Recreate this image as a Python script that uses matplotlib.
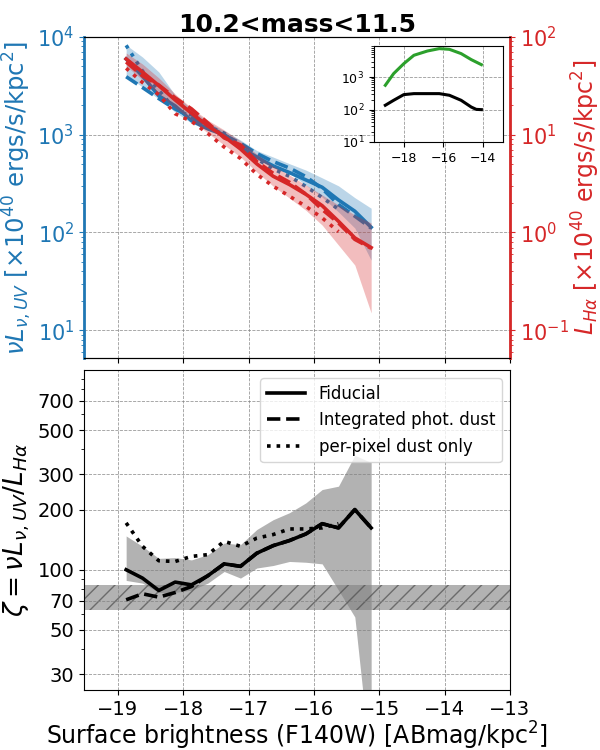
import numpy as np
import matplotlib
matplotlib.use("Agg")
import matplotlib.pyplot as plt
from matplotlib.ticker import FixedLocator, NullFormatter, FixedFormatter

# ---------------- data ----------------
sb = [-18.875, -18.625, -18.375, -18.125, -17.875, -17.625, -17.375, -17.125,
      -16.875, -16.625, -16.375, -16.125, -15.875, -15.625, -15.375, -15.125]

# UV surface density (x1e40 ergs/s/kpc^2)
uv_fid = [5960, 3980, 2500, 1970, 1394, 1148, 1000, 744, 590, 480, 410, 345, 290, 215, 165, 113]
uv_int = [3925, 3041, 2344, 1832, 1517, 1228, 993, 817, 643, 532, 456, 373, 281, 193, 147, 111]
uv_pix = [8220, 4480, 2850, 1804, 1597, 1226, 1037, 749, 567, 446, 376, 296, 228, 173]
uv_hi = [8280, 6240, 4385, 2546, 1833, 1349, 1099, 883, 689, 591, 505, 435, 362, 300, 227, 177]
uv_lo = [4083, 3075, 2317, 1706, 1318, 1117, 955, 731, 578, 484, 405, 305, 230, 162, 111, 52]

# Halpha surface density (x1e40 ergs/s/kpc^2)
ha_fid = [59.6, 43.8, 31.8, 22.7, 16.6, 12.3, 9.57, 7.15, 5.03, 3.76, 3.09, 2.46, 1.88, 1.30, 0.88, 0.70]
ha_int = [55.5, 40.1, 32.2, 23.8, 18.4, 13.2, 9.28, 7.86, 5.31, 4.03, 3.26, 2.47, 1.72, 1.25, 0.85, 0.69]
ha_pix = [47.9, 34.2, 25.7, 16.4, 13.7, 10.3, 7.48, 5.72, 3.94, 2.97, 2.35, 1.85, 1.41, 1.02]
ha_hi = [68.6, 52.9, 38.1, 26.1, 18.8, 14.1, 11.2, 8.62, 6.34, 4.78, 3.87, 3.06, 2.42, 1.91, 1.51, 1.25]
ha_lo = [50.5, 36.3, 26.1, 18.8, 14.1, 10.4, 7.85, 5.92, 4.15, 2.98, 2.25, 1.69, 1.19, 0.743, 0.464, 0.150]

# zeta = UV / Halpha
z_fid = [100, 90.8, 78.7, 86.7, 84, 93.3, 107, 104, 121, 132, 140, 151, 170, 162, 200, 162]
z_int = [70.7, 75.8, 72.9, 76.9, 82.4, 93.3, 107, 104, 121, 132, 140, 151, 170, 162, 200, 162]
z_pix = [171.6, 131, 110.9, 110, 116.6, 119, 138.7, 131, 144, 150, 160, 160, 162, 170]
z_hi = [147.6, 131, 114, 115, 112, 119, 136, 133.6, 159, 178, 193, 216, 252, 262, 374, 344]
z_lo = [88.4, 85.7, 77, 77, 79, 85.7, 98, 90.8, 102, 105, 110, 109, 107, 79, 58, 10]
z_ref_band = [63, 84]

# inset
ins_x_g = [-18.93, -18.51, -18.0, -17.49, -16.81, -16.21, -15.70, -15.11, -14.60, -14.09]
ins_green = [556, 1274, 2570, 4660, 6310, 7480, 7110, 5250, 3430, 2400]
ins_x_k = [-18.93, -18.51, -18.0, -17.49, -16.81, -16.21, -15.70, -15.11, -14.60, -14.35, -14.09]
ins_black = [135, 192, 287, 308, 308, 308, 274, 192, 119, 101, 99]

z_ticks = [30, 50, 70, 100, 200, 300, 500, 700]
title = "10.2<mass<11.5"

# ---------------- figure ----------------
blue = "tab:blue"
red = "tab:red"
lw = 2.6

fig = plt.figure(figsize=(6, 7.5), dpi=100)
ax = fig.add_axes([0.14, 0.5227, 0.71, 0.428])
ax2 = ax.twinx()
axb = fig.add_axes([0.14, 0.08, 0.71, 0.4267])

x = np.array(sb)
npx = len(uv_pix)

ax.fill_between(x, uv_lo, uv_hi, color=blue, alpha=0.3, lw=0)
ax.plot(x, uv_fid, color=blue, lw=lw, ls='-')
ax.plot(x, uv_int, color=blue, lw=lw, ls='--')
ax.plot(x[:npx], uv_pix, color=blue, lw=lw, ls=':')

ax2.fill_between(x, ha_lo, ha_hi, color=red, alpha=0.3, lw=0)
ax2.plot(x, ha_fid, color=red, lw=lw, ls='-')
ax2.plot(x, ha_int, color=red, lw=lw, ls='--')
ax2.plot(x[:npx], ha_pix, color=red, lw=lw, ls=':')

ax.set_yscale('log')
ax2.set_yscale('log')
ax.set_ylim(5.2, 1e4)
ax2.set_ylim(0.052, 100)
ax.set_xlim(-19.52, -13)
ax.set_xticks([-19, -18, -17, -16, -15, -14, -13])
ax.tick_params(labelbottom=False)
ax.grid(True, which='major', ls='--', color='gray', lw=0.6, alpha=0.8)

ax.spines['left'].set_color(blue)
ax.spines['left'].set_linewidth(2)
ax2.spines['left'].set_visible(False)
ax2.spines['right'].set_color(red)
ax2.spines['right'].set_linewidth(2)
ax.tick_params(axis='y', which='both', colors=blue, labelsize=15)
ax2.tick_params(axis='y', which='both', colors=red, labelsize=15)
ax.set_ylabel(r"$\nu L_{\nu,UV}$ [$\times10^{40}$ ergs/s/kpc$^2$]", color=blue, fontsize=17.5, labelpad=2)
ax2.set_ylabel(r"$L_{H\alpha}$ [$\times10^{40}$ ergs/s/kpc$^2$]", color=red, fontsize=17, labelpad=1)
ax.set_title(title, fontsize=18, fontweight='bold', pad=2)

# inset
axi = fig.add_axes([374/600, 1-142/750, 129/600, 96/750])
axi.set_zorder(5)
axi.plot(ins_x_g, ins_green, color='tab:green', lw=2.2)
axi.plot(ins_x_k, ins_black, color='black', lw=2.2)
axi.set_yscale('log')
axi.set_xlim(-19.5, -13)
axi.set_ylim(10, 9000)
axi.set_xticks([-18, -16, -14])
axi.grid(True, which='major', ls='--', color='gray', lw=0.6, alpha=0.8)
axi.tick_params(labelsize=9)

# bottom panel
axb.fill_between(x, z_lo, z_hi, color='gray', alpha=0.6, lw=0)
axb.axhspan(z_ref_band[0], z_ref_band[1], facecolor=(0.5, 0.5, 0.5, 0.6),
            edgecolor=(0.3, 0.3, 0.3, 0.7), hatch='//', lw=0)
axb.plot(x, z_fid, color='black', lw=lw, ls='-', label='Fiducial')
axb.plot(x, z_int, color='black', lw=lw, ls='--', label='Integrated phot. dust')
axb.plot(x[:npx], z_pix, color='black', lw=lw, ls=':', label='per-pixel dust only')
axb.set_yscale('log')
axb.set_ylim(25, 1000)
axb.set_xlim(-19.52, -13)
axb.set_xticks([-19, -18, -17, -16, -15, -14, -13])
axb.yaxis.set_major_locator(FixedLocator(z_ticks))
axb.yaxis.set_major_formatter(FixedFormatter([str(t) for t in z_ticks]))
axb.yaxis.set_minor_formatter(NullFormatter())
axb.tick_params(labelsize=14)
axb.grid(True, which='major', ls='--', color='gray', lw=0.6, alpha=0.8)
axb.set_ylabel(r"$\zeta=\nu L_{\nu,UV}/L_{H\alpha}$", fontsize=19)
axb.set_xlabel(r"Surface brightness (F140W) [ABmag/kpc$^2$]", fontsize=17, labelpad=1)
axb.legend(loc='upper right', fontsize=12, handlelength=2.3)

fig.savefig("out.png", dpi=100)
